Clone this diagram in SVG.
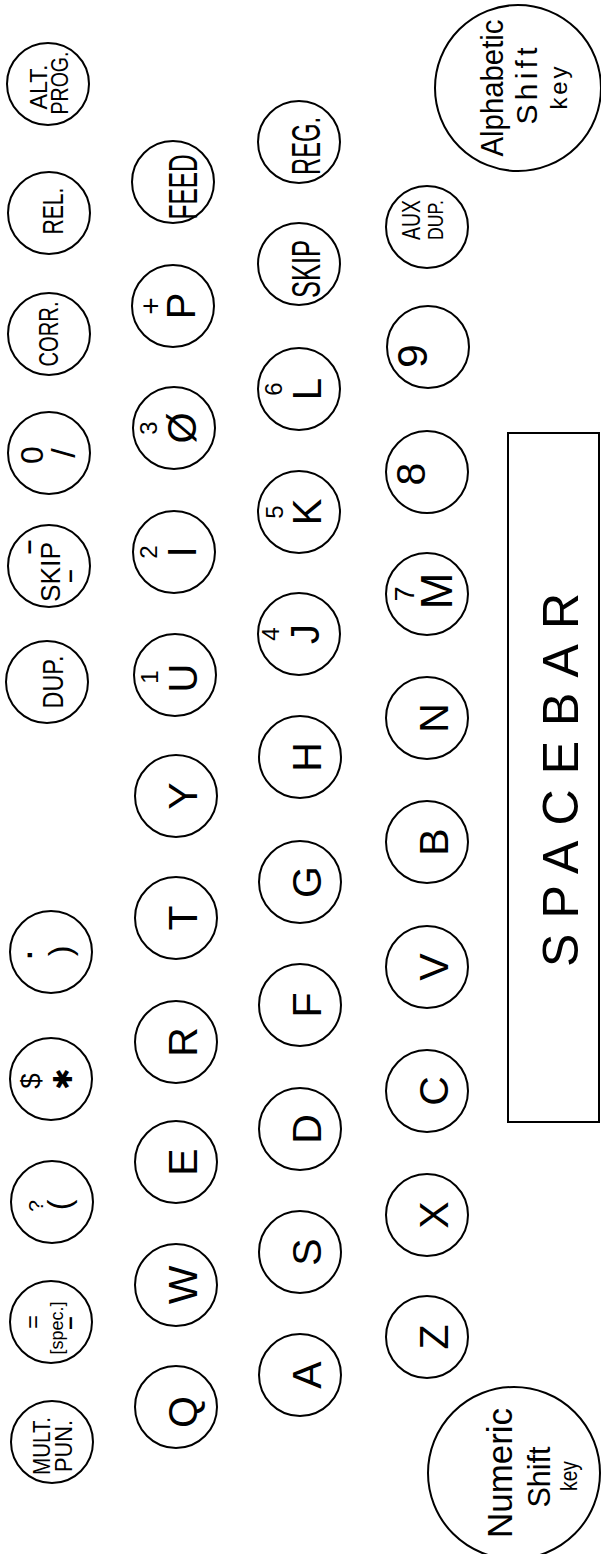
<svg xmlns="http://www.w3.org/2000/svg" width="601" height="1554" viewBox="0 0 601 1554">
<style>
.k circle{fill:none;stroke:#000;stroke-width:2}
text{font-family:"Liberation Sans",Arial,sans-serif;fill:#000;text-anchor:middle}
.L{font-size:41px}
.n{font-size:24px}
.b{font-weight:bold}
</style>
<rect width="601" height="1554" fill="#fff"/>
<!-- Top row -->
<g id="key-alt-prog" class="k" transform="translate(48,84) rotate(-90)"><circle r="41"/><text x="-3" y="-1" style="font-size:23px" textLength="45" lengthAdjust="spacingAndGlyphs">ALT.</text><text x="1" y="20" style="font-size:23px" textLength="63" lengthAdjust="spacingAndGlyphs">PROG.</text></g>
<g id="key-rel" class="k" transform="translate(49,213) rotate(-90)"><circle r="41"/><text x="2" y="14" style="font-size:30px" textLength="47" lengthAdjust="spacingAndGlyphs">REL.</text></g>
<g id="key-corr" class="k" transform="translate(49,334) rotate(-90)"><circle r="41"/><text x="0" y="9" style="font-size:28px" textLength="65" lengthAdjust="spacingAndGlyphs">CORR.</text></g>
<g id="key-0" class="k" transform="translate(49,453) rotate(-90)"><circle r="41"/><text x="-2" y="-6" style="font-size:32px">0</text><text x="0" y="26" style="font-size:34px">/</text></g>
<g id="key-skip-minus" class="k" transform="translate(49,566) rotate(-90)"><circle r="41"/><text x="19" y="-12" class="b" style="font-size:26px">–</text><text x="-6" y="11" style="font-size:28px" textLength="60" lengthAdjust="spacingAndGlyphs">SKIP</text><text x="-10" y="28" class="b" style="font-size:24px">–</text></g>
<g id="key-dup" class="k" transform="translate(47,682) rotate(-90)"><circle r="41"/><text x="0" y="16" style="font-size:30px" textLength="53" lengthAdjust="spacingAndGlyphs">DUP.</text></g>
<g id="key-semicolon" class="k" transform="translate(51,952) rotate(-90)"><circle r="41"/><text x="-3" y="-19" class="b" style="font-size:30px">.</text><text x="1" y="20" style="font-size:32px">)</text></g>
<g id="key-dollar" class="k" transform="translate(51,1079) rotate(-90)"><circle r="41"/><text x="-2" y="-11" style="font-size:28px">$</text><text x="0" y="21" style="font-size:26px;font-family:'DejaVu Sans',sans-serif">✱</text></g>
<g id="key-question" class="k" transform="translate(52,1202) rotate(-90)"><circle r="41"/><text x="-4" y="-9" style="font-size:21px">?</text><text x="-3" y="18" style="font-size:32px">(</text></g>
<g id="key-equals" class="k" transform="translate(51,1322) rotate(-90)"><circle r="41"/><text x="0" y="-10" style="font-size:24px">=</text><text x="-6" y="12" style="font-size:18px">[spec.]</text><text x="-1" y="26" class="b" style="font-size:24px">–</text></g>
<g id="key-mult-pun" class="k" transform="translate(52,1442) rotate(-90)"><circle r="41"/><text x="-4" y="-2" style="font-size:24px" textLength="58" lengthAdjust="spacingAndGlyphs">MULT.</text><text x="-4" y="20" style="font-size:24px" textLength="52" lengthAdjust="spacingAndGlyphs">PUN.</text></g>
<!-- Q row -->
<g id="key-feed" class="k" transform="translate(173,182) rotate(-90)"><circle r="41"/><text x="-5" y="24" style="font-size:40px" textLength="65" lengthAdjust="spacingAndGlyphs">FEED</text></g>
<g id="key-P" class="k" transform="translate(173,306) rotate(-90)"><circle r="41"/><text x="0" y="-12" style="font-size:30px">+</text><text x="0" y="22" style="font-size:40px">P</text></g>
<g id="key-O" class="k" transform="translate(174,428) rotate(-90)"><circle r="41"/><text x="0" y="-17" class="n">3</text><text x="0" y="22" style="font-size:40px">Ø</text></g>
<g id="key-I" class="k" transform="translate(174,552) rotate(-90)"><circle r="41"/><text x="0" y="-17" class="n">2</text><text x="0" y="22" style="font-size:40px">I</text></g>
<g id="key-U" class="k" transform="translate(175,675) rotate(-90)"><circle r="41"/><text x="-2" y="-17" class="n">1</text><text x="-3" y="22" style="font-size:40px">U</text></g>
<g id="key-Y" class="k" transform="translate(176,796) rotate(-90)"><circle r="41"/><text x="0" y="21" class="L">Y</text></g>
<g id="key-T" class="k" transform="translate(176,918) rotate(-90)"><circle r="41"/><text x="0" y="21" class="L">T</text></g>
<g id="key-R" class="k" transform="translate(176,1042) rotate(-90)"><circle r="41"/><text x="0" y="21" class="L">R</text></g>
<g id="key-E" class="k" transform="translate(176,1162) rotate(-90)"><circle r="41"/><text x="0" y="21" class="L">E</text></g>
<g id="key-W" class="k" transform="translate(176,1285) rotate(-90)"><circle r="41"/><text x="0" y="21" class="L">W</text></g>
<g id="key-Q" class="k" transform="translate(176,1407) rotate(-90)"><circle r="41"/><text x="-5" y="21" class="L">Q</text></g>
<!-- A row -->
<g id="key-reg" class="k" transform="translate(299,142) rotate(-90)"><circle r="41"/><text x="-4" y="21" style="font-size:41px" textLength="58" lengthAdjust="spacingAndGlyphs">REG.</text></g>
<g id="key-skip" class="k" transform="translate(299,264) rotate(-90)"><circle r="41"/><text x="-5" y="21" style="font-size:41px" textLength="58" lengthAdjust="spacingAndGlyphs">SKIP</text></g>
<g id="key-L" class="k" transform="translate(299,389) rotate(-90)"><circle r="41"/><text x="0" y="-17" class="n">6</text><text x="0" y="22" style="font-size:40px">L</text></g>
<g id="key-K" class="k" transform="translate(299,512) rotate(-90)"><circle r="41"/><text x="0" y="-16" class="n">5</text><text x="0" y="22" style="font-size:40px">K</text></g>
<g id="key-J" class="k" transform="translate(299,634) rotate(-90)"><circle r="41"/><text x="0" y="-20" class="n">4</text><text x="0" y="20" style="font-size:40px">J</text></g>
<g id="key-H" class="k" transform="translate(300,757) rotate(-90)"><circle r="41"/><text x="0" y="21" class="L">H</text></g>
<g id="key-G" class="k" transform="translate(300,882) rotate(-90)"><circle r="41"/><text x="0" y="21" class="L">G</text></g>
<g id="key-F" class="k" transform="translate(300,1005) rotate(-90)"><circle r="41"/><text x="0" y="21" class="L">F</text></g>
<g id="key-D" class="k" transform="translate(300,1129) rotate(-90)"><circle r="41"/><text x="0" y="21" class="L">D</text></g>
<g id="key-S" class="k" transform="translate(300,1252) rotate(-90)"><circle r="41"/><text x="0" y="21" class="L">S</text></g>
<g id="key-A" class="k" transform="translate(300,1375) rotate(-90)"><circle r="41"/><text x="0" y="21" class="L">A</text></g>
<!-- Z row -->
<g id="key-aux-dup" class="k" transform="translate(427,227) rotate(-90)"><circle r="41"/><text x="7" y="-7" style="font-size:25px" textLength="40" lengthAdjust="spacingAndGlyphs">AUX</text><text x="7" y="16" style="font-size:22px" textLength="40" lengthAdjust="spacingAndGlyphs">DUP.</text></g>
<g id="key-9" class="k" transform="translate(428,347) rotate(-90)"><circle r="41"/><text x="-9" y="-1" style="font-size:43px">9</text></g>
<g id="key-8" class="k" transform="translate(427,472) rotate(-90)"><circle r="41"/><text x="-2" y="-2" style="font-size:41px">8</text></g>
<g id="key-M" class="k" transform="translate(427,594) rotate(-90)"><circle r="41"/><text x="0" y="-13" style="font-size:27px">7</text><text x="3" y="25" style="font-size:44px">M</text></g>
<g id="key-N" class="k" transform="translate(427,718) rotate(-90)"><circle r="41"/><text x="0" y="21" class="L">N</text></g>
<g id="key-B" class="k" transform="translate(427,842) rotate(-90)"><circle r="41"/><text x="0" y="21" class="L">B</text></g>
<g id="key-V" class="k" transform="translate(427,967) rotate(-90)"><circle r="41"/><text x="0" y="21" class="L">V</text></g>
<g id="key-C" class="k" transform="translate(427,1091) rotate(-90)"><circle r="41"/><text x="0" y="21" class="L">C</text></g>
<g id="key-X" class="k" transform="translate(427,1215) rotate(-90)"><circle r="41"/><text x="0" y="21" class="L">X</text></g>
<g id="key-Z" class="k" transform="translate(427,1337) rotate(-90)"><circle r="41"/><text x="0" y="21" class="L">Z</text></g>
<!-- Shift keys -->
<g id="key-alpha-shift" class="k" transform="translate(518,88) rotate(-90)"><circle r="83"/><text x="0" y="-15" style="font-size:32px" textLength="137" lengthAdjust="spacingAndGlyphs">Alphabetic</text><text x="2" y="19" style="font-size:30px" textLength="77" lengthAdjust="spacing">Shift</text><text x="0" y="49" style="font-size:24px" textLength="43" lengthAdjust="spacing">key</text></g>
<g id="key-num-shift" class="k" transform="translate(514,1473) rotate(-90)"><circle r="86"/><text x="0" y="-2" style="font-size:35px" textLength="130" lengthAdjust="spacingAndGlyphs">Numeric</text><text x="-4" y="36" style="font-size:32px" textLength="61" lengthAdjust="spacingAndGlyphs">Shift</text><text x="-3" y="63" style="font-size:24px" textLength="30" lengthAdjust="spacingAndGlyphs">key</text></g>
<!-- Spacebar -->
<g id="spacebar">
<rect x="508" y="433" width="91" height="689" fill="none" stroke="#000" stroke-width="2"/>
<text transform="translate(578,780) rotate(-90)" style="font-size:50px" textLength="374" lengthAdjust="spacing">SPACEBAR</text>
</g>
</svg>
